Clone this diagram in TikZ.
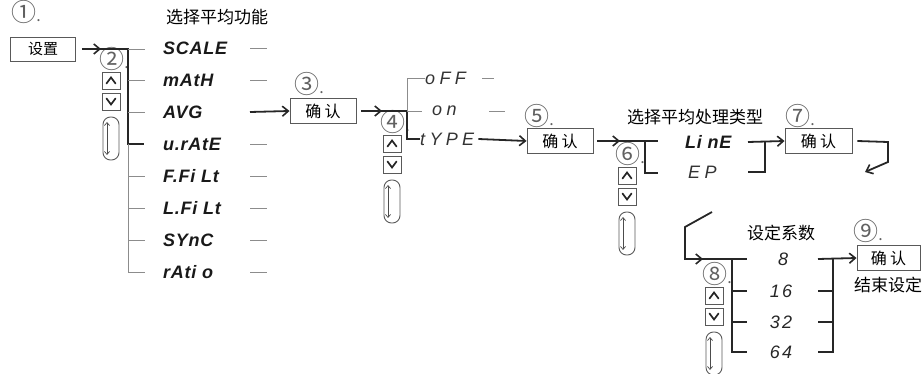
\documentclass[tikz,border=0pt]{standalone}
\usepackage{fontspec}
\setmainfont{Liberation Sans}
\newfontfamily\cjk{Noto Sans CJK SC}
\newfontfamily\cjkbox{Noto Sans CJK SC}[LetterSpace=20]
\newfontfamily\segA{Liberation Sans}[LetterSpace=4]
\newfontfamily\segB{Liberation Sans}[LetterSpace=12]
\newfontfamily\segC{Liberation Sans}[LetterSpace=24]
\usetikzlibrary{arrows.meta}
\newcommand\circlab[1]{{\fontsize{25}{25}\selectfont #1}{\fontsize{16}{16}\selectfont .}}
\tikzset{
  main/.style={line width=1.8pt, draw=black!85},
  aux/.style={line width=0.9pt, draw=black!45},
  tip/.tip={Straight Barb[length=6pt,width=10pt,line width=1.6pt]},
  cbox/.style={draw=black!65, line width=0.9pt, minimum width=66pt, minimum height=25pt, inner sep=0pt, font=\cjkbox\fontsize{16}{16}\selectfont},
  circ/.style={inner sep=0pt, font=\cjk, text=black!62},
  ttl/.style={inner sep=0pt, font=\cjk\fontsize{17}{17}\selectfont},
  segone/.style={inner sep=0pt, anchor=west, font=\segA\bfseries\itshape\fontsize{18}{18}\selectfont, text=black!90},
  segtwo/.style={inner sep=0pt, anchor=west, font=\segC\itshape\fontsize{18}{18}\selectfont, text=black!80},
  segnum/.style={inner sep=0pt, font=\segB\itshape\fontsize{18}{18}\selectfont, text=black!85},
  btn/.style={draw=black!65, line width=0.9pt, minimum width=18pt, minimum height=17pt, inner sep=0pt},
  chev/.style={line width=1.7pt, black!85, line cap=round, line join=miter},
  capsule/.style={draw=black!65, line width=0.9pt, minimum width=16pt, minimum height=43pt, inner sep=0pt, rounded corners=7.5pt},
  ctrl/.pic={
    \node[circ] (-lab) at (12,-13) {\circlab{#1}};
    \node[btn] (-up) at (9,8.5) {};
    \node[btn] (-dn) at (9,29.5) {};
    \draw[chev] (4.5,11.5) -- (9,5.5) -- (13.5,11.5);
    \draw[chev] (4.5,26.5) -- (9,32.5) -- (13.5,26.5);
    \node[capsule] (-cap) at (9,66.5) {};
    \draw[line width=0.7pt, black!70, {Straight Barb[length=3pt,width=5pt]}-{Straight Barb[length=3pt,width=5pt]}] (5,50) -- (5,83);
  }
}
\begin{document}
\begin{tikzpicture}[x=1pt,y=-1pt]
\useasboundingbox (0,0) rectangle (924,374);
% ---------- step 1 / 2
\node[circ] (n1) at (26,12) {\circlab{①}};
\node[cbox, minimum width=65pt, minimum height=24pt, font=\cjk\fontsize{15}{15}\selectfont] (set) at (43,49) {设置};
\node[ttl] (t1) at (217,17) {选择平均功能};
\pic (g2) at (102,72) {ctrl={②}};
\node[segone] (i1) at (163,48) {SCALE};
\node[segone] (i2) at (163,80) {mAtH};
\node[segone] (i3) at (163,112) {AVG};
\node[segone] (i4) at (163,144) {u.rAtE};
\node[segone] (i5) at (163,176) {F.Fi Lt};
\node[segone] (i6) at (163,208) {L.Fi Lt};
\node[segone] (i7) at (163,240) {SYnC};
\node[segone] (i8) at (163,272) {rAti o};
\coordinate (j1) at (128,49);
\coordinate (j1b) at (128,144);
\draw[main,-{tip}] ([xshift=6pt]set.east) -- (101,49);
\draw[main] (97,49) -- (j1) -- (j1b) -- (i4.west -| 144,0);
\draw[aux] (j1) -- (145,49);
\draw[aux] (128,80) -- (145,80);
\draw[aux] (128,112) -- (145,112);
\draw[aux] (j1b) -- (128,272);
\foreach \yy in {176,208,240,272} \draw[aux] (128,\yy) -- (145,\yy);
\foreach \yy in {48,80,144,176,208,240,272} \draw[aux] (250,\yy) -- (267,\yy);
% ---------- step 3 / 4
\node[circ] (n3) at (309,84) {\circlab{③}};
\node[cbox] (ok3) at (323,111) {确认};
\draw[main,-{tip}] (250,112) -- (ok3.west);
\pic (g4) at (383,135) {ctrl={④}};
\node[segtwo] (o1) at (425,78) {oFF};
\node[segtwo] (o2) at (432,111) {on};
\node[segtwo] (o3) at (420,139) {tYPE};
\coordinate (j3) at (407,111);
\draw[main,-{tip}] ([xshift=5pt]ok3.east) -- (382,111);
\draw[main] (378,111) -- (j3) -- (407,139) -- (o3.west);
\draw[aux] (j3) -- (407,78) -- (o1.west);
\draw[aux] (j3) -- (422,111);
\draw[aux] (482,78) -- (494,78);
\draw[aux] (489,111) -- (505,111);
% ---------- step 5 / 6
\node[circ] (n5) at (539,116) {\circlab{⑤}};
\node[cbox] (ok5) at (560,141) {确认};
\draw[main,-{tip}] ([xshift=4pt]o3.east) -- (ok5.west);
\pic (g6) at (618,167) {ctrl={⑥}};
\node[ttl] (t2) at (695,117) {选择平均处理类型};
\node[segone] (l1) at (685,142) {Li nE};
\node[segtwo] (l2) at (688,172) {EP};
\coordinate (j5) at (645,141);
\draw[main,-{tip}] ([xshift=4pt]ok5.east) -- (620,141);
\draw[main] (616,141) -- (658,141);
\draw[main] (j5) -- (645,173) -- (658,173);
% ---------- step 7
\node[circ] (n7) at (800,116) {\circlab{⑦}};
\node[cbox, minimum width=67pt] (ok7) at (818.5,141) {确认};
\coordinate (r7) at (765,142);
\draw[main,-{tip}] (748,142) -- (ok7.west);
\draw[main] (r7) -- (765,172) -- (748,172);
\coordinate (ret) at (865,172);
\draw[main,-{tip}] ([xshift=5pt]ok7.east) -- (888,142) -- (888,162) -- (ret);
% ---------- step 8 / 9
\node[ttl] (t3) at (781,233) {设定系数};
\node[segnum] (v1) at (783,259) {8};
\node[segnum] (v2) at (781,291) {16};
\node[segnum] (v3) at (781,322) {32};
\node[segnum] (v4) at (781,352) {64};
\pic (g8) at (705,287) {ctrl={⑧}};
\coordinate (d0) at (712,212);
\coordinate (d1) at (685,227);
\coordinate (j8) at (732,259);
\draw[main,-{tip}] (d0) -- (d1) -- (685,259) -- (703,259);
\draw[main] (699,259) -- (747,259);
\draw[main] (j8) -- (732,352) -- (747,352);
\draw[main] (732,291) -- (747,291);
\draw[main] (732,322) -- (747,322);
\node[circ] (n9) at (868,231) {\circlab{⑨}};
\node[cbox, minimum width=63pt] (ok9) at (888.5,258) {确认};
\node[ttl] (t4) at (888,285) {结束设定};
\coordinate (r9) at (833,259);
\draw[main,-{tip}] (818,259) -- (ok9.west);
\draw[main] (r9) -- (833,352) -- (818,352);
\draw[main] (818,291) -- (833,291);
\draw[main] (818,322) -- (833,322);
\end{tikzpicture}
\end{document}
